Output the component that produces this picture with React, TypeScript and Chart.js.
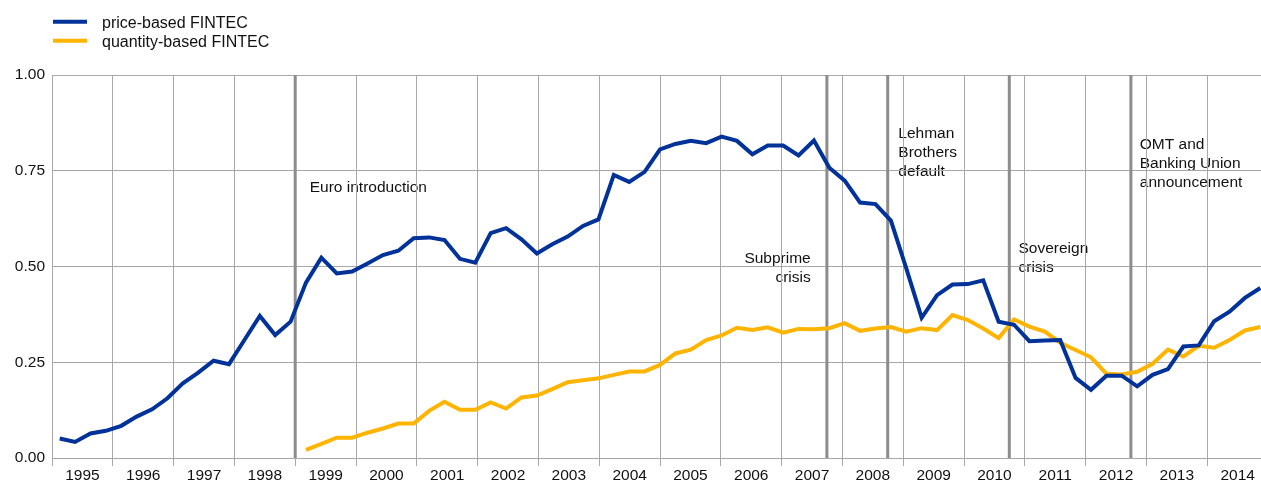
import React, { useEffect, useRef } from 'react';
import { Chart, registerables } from 'chart.js';

Chart.register(...registerables);

// ---------- data ----------
const years: number[] = [1995, 1996, 1997, 1998, 1999, 2000, 2001, 2002, 2003, 2004, 2005, 2006, 2007, 2008, 2009, 2010, 2011, 2012, 2013, 2014];
const yearLabels: string[] = years.map(String);
const quarterNames: string[] = ['Q1', 'Q2', 'Q3', 'Q4'];
// 79 quarterly observations: 1995Q1 ... 2014Q3
const quarters: string[] = years.flatMap((y) => quarterNames.map((q) => `${y}${q}`)).slice(0, 79);

const priceBased: number[] = [
  0.051, 0.042, 0.064, 0.071, 0.084, 0.108, 0.127, 0.156,
  0.195, 0.223, 0.254, 0.245, 0.308, 0.371, 0.321, 0.356,
  0.458, 0.523, 0.482, 0.487, 0.508, 0.530, 0.541, 0.574,
  0.576, 0.569, 0.520, 0.510, 0.587, 0.600, 0.571, 0.534,
  0.558, 0.578, 0.606, 0.623, 0.739, 0.721, 0.747, 0.806,
  0.820, 0.828, 0.822, 0.839, 0.828, 0.793, 0.816, 0.816,
  0.790, 0.829, 0.758, 0.724, 0.667, 0.663, 0.620, 0.495,
  0.366, 0.425, 0.453, 0.454, 0.464, 0.356, 0.348, 0.305,
  0.307, 0.308, 0.209, 0.178, 0.215, 0.215, 0.187, 0.217,
  0.232, 0.291, 0.294, 0.357, 0.382, 0.418, 0.444,
];

const quantityBased: (number | null)[] = [
  null, null, null, null, null, null, null, null,
  null, null, null, null, null, null, null, null,
  0.021, 0.037, 0.053, 0.053, 0.066, 0.077, 0.090, 0.090,
  0.123, 0.147, 0.126, 0.126, 0.145, 0.129, 0.158, 0.163,
  0.180, 0.198, 0.203, 0.208, 0.217, 0.226, 0.226, 0.243,
  0.273, 0.283, 0.308, 0.320, 0.340, 0.334, 0.341, 0.327,
  0.337, 0.336, 0.339, 0.352, 0.332, 0.338, 0.342, 0.330,
  0.339, 0.334, 0.373, 0.360, 0.338, 0.313, 0.362, 0.343,
  0.330, 0.301, 0.282, 0.263, 0.220, 0.218, 0.225, 0.246,
  0.283, 0.265, 0.293, 0.288, 0.308, 0.333, 0.342,
];

const seriesLabels: string[] = ['price-based FINTEC', 'quantity-based FINTEC'];
const seriesColors: string[] = ['#003299', '#FFB400'];

const yTicks: number[] = [0, 0.25, 0.5, 0.75, 1];

// event markers (in years)
const eventYears: number[] = [1999.0, 2007.745, 2008.745, 2010.745, 2012.745];

// annotation texts: x in years, y = value at first baseline
const annotationLines: string[][] = [
  ['Euro introduction'],
  ['Subprime', 'crisis'],
  ['Lehman', 'Brothers', 'default'],
  ['Sovereign', 'crisis'],
  ['OMT and', 'Banking Union', 'announcement'],
];
const annotationX: number[] = [1999.239, 2007.479, 2008.92, 2010.896, 2012.891];
const annotationY: number[] = [0.695, 0.508, 0.835, 0.5345, 0.807];
const annotationAlign: CanvasTextAlign[] = ['left', 'right', 'left', 'left', 'left'];

const FONT = '"Liberation Sans", Arial, Helvetica, sans-serif';
const GRID = '#a8a8a8';
const TEXT = '#111111';

const overlayPlugin = {
  id: 'overlay',
  beforeDraw(chart: any) {
    const { ctx, chartArea } = chart;
    const xs = chart.scales.xYear;
    const ys = chart.scales.y;
    ctx.save();
    ctx.fillStyle = '#ffffff';
    ctx.fillRect(0, 0, chart.width, chart.height);

    // legend
    chart.data.datasets.forEach((ds: any, k: number) => {
      const y = 21.7 + k * 19;
      ctx.strokeStyle = ds.borderColor;
      ctx.lineWidth = 4;
      ctx.lineCap = 'butt';
      ctx.beginPath();
      ctx.moveTo(chartArea.left + 1, y);
      ctx.lineTo(chartArea.left + 35, y);
      ctx.stroke();
      ctx.fillStyle = TEXT;
      ctx.font = `16px ${FONT}`;
      ctx.textAlign = 'left';
      ctx.textBaseline = 'alphabetic';
      ctx.fillText(ds.label, chartArea.left + 50, y + 6.3);
    });

    // annotations (drawn below grid lines)
    ctx.font = `15.5px ${FONT}`;
    ctx.fillStyle = TEXT;
    ctx.textBaseline = 'alphabetic';
    annotationLines.forEach((lines, i) => {
      const x = xs.getPixelForValue(annotationX[i]);
      const y = ys.getPixelForValue(annotationY[i]);
      ctx.textAlign = annotationAlign[i];
      lines.forEach((l, j) => ctx.fillText(l, x, y + j * 18.8));
    });
    ctx.restore();
  },
  beforeDatasetsDraw(chart: any) {
    const { ctx, chartArea } = chart;
    const xs = chart.scales.xYear;
    ctx.save();
    ctx.strokeStyle = '#8c8c8c';
    ctx.lineWidth = 3;
    eventYears.forEach((yr) => {
      const x = xs.getPixelForValue(yr);
      ctx.beginPath();
      ctx.moveTo(x, chartArea.top);
      ctx.lineTo(x, chartArea.bottom);
      ctx.stroke();
    });
    ctx.restore();
  },
};

export default function App() {
  const canvasRef = useRef<HTMLCanvasElement | null>(null);

  useEffect(() => {
    if (!canvasRef.current) return;
    const chart = new Chart(canvasRef.current, {
      type: 'line',
      data: {
        labels: quarters,
        datasets: [
          {
            label: seriesLabels[0],
            data: priceBased,
            borderColor: seriesColors[0],
            backgroundColor: seriesColors[0],
            borderWidth: 4,
            pointRadius: 0,
            tension: 0,
            fill: false,
            xAxisID: 'x',
          },
          {
            label: seriesLabels[1],
            data: quantityBased,
            borderColor: seriesColors[1],
            backgroundColor: seriesColors[1],
            borderWidth: 4,
            pointRadius: 0,
            tension: 0,
            fill: false,
            spanGaps: false,
            xAxisID: 'x',
          },
        ],
      },
      options: {
        animation: false,
        responsive: false,
        devicePixelRatio: 1,
        layout: { padding: { top: 75, left: 0, right: 0, bottom: 0 } },
        plugins: {
          legend: { display: false },
          tooltip: { enabled: false },
        },
        scales: {
          x: {
            type: 'category',
            display: false,
            offset: true,
          },
          xYear: {
            type: 'linear',
            position: 'bottom',
            min: years[0],
            max: years[years.length - 1] + 1,
            afterBuildTicks: (scale: any) => {
              scale.ticks = [...years, years[years.length - 1] + 1].map((v) => ({ value: v }));
            },
            afterFit: (scale: any) => {
              scale.height = 25;
            },
            grid: {
              color: GRID,
              lineWidth: 1,
              drawTicks: true,
              tickLength: 8,
              tickColor: GRID,
            },
            border: { display: true, color: GRID },
            ticks: {
              autoSkip: false,
              maxRotation: 0,
              minRotation: 0,
              labelOffset: 30.45,
              padding: 2,
              color: TEXT,
              font: { family: FONT, size: 15.5, lineHeight: 1 },
              callback: (v: any) => {
                const idx = years.indexOf(Number(v));
                return idx >= 0 ? yearLabels[idx] : '';
              },
            },
          },
          y: {
            type: 'linear',
            min: 0,
            max: 1,
            afterBuildTicks: (scale: any) => {
              scale.ticks = yTicks.map((v) => ({ value: v }));
            },
            afterFit: (scale: any) => {
              scale.width = 52;
            },
            grid: { color: GRID, lineWidth: 1, drawTicks: false },
            border: { display: true, color: GRID },
            ticks: {
              padding: 7,
              color: TEXT,
              font: { family: FONT, size: 15.5 },
              callback: (v: any) => Number(v).toFixed(2),
            },
          },
        },
      },
      plugins: [overlayPlugin],
    } as any);
    return () => chart.destroy();
  }, []);

  return (
    <div
      style={{
        position: 'absolute',
        left: 0,
        top: 0,
        width: 1261,
        height: 483,
        overflow: 'hidden',
        background: '#ffffff',
      }}
    >
      <canvas ref={canvasRef} width={1270} height={483} style={{ display: 'block', width: 1270, height: 483 }} />
    </div>
  );
}
